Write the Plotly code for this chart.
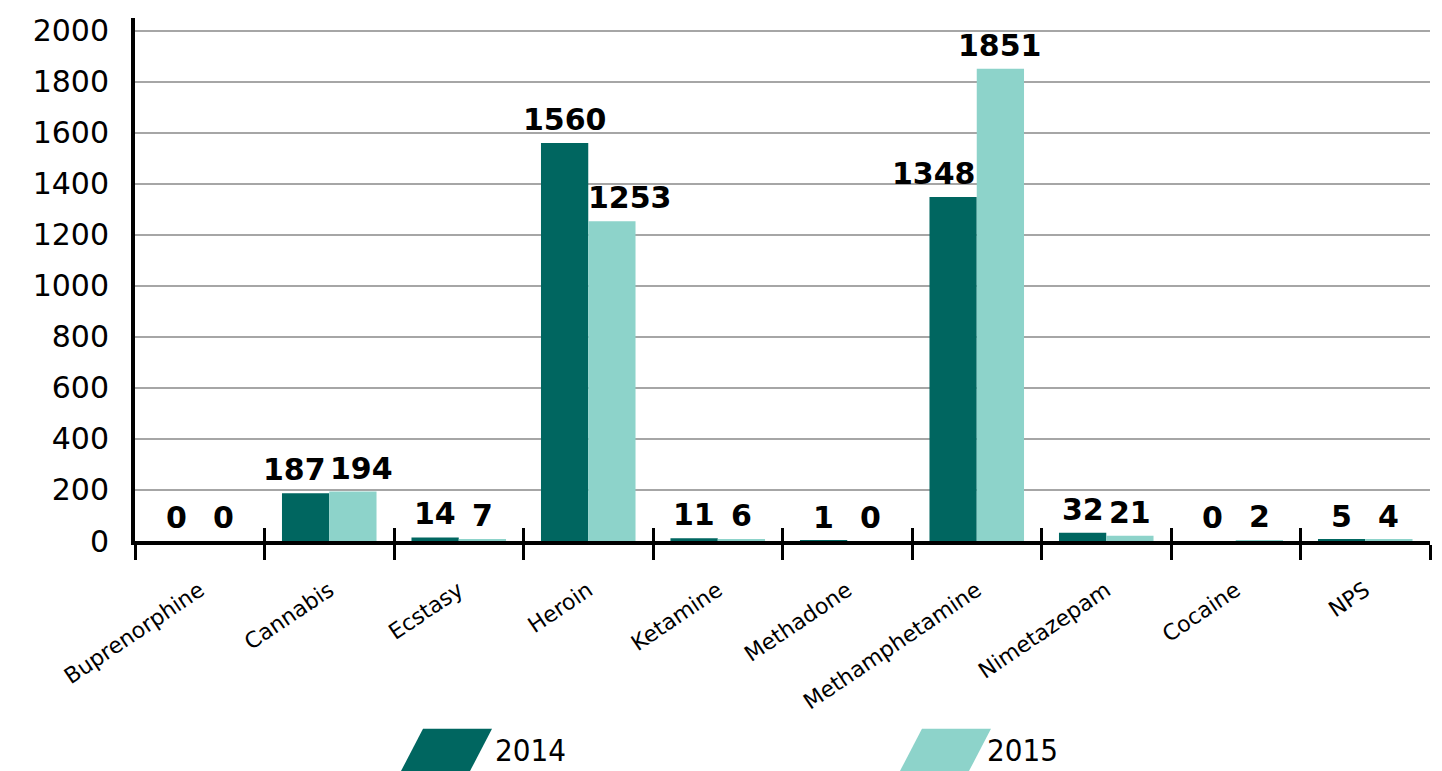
import plotly.graph_objects as go

# %% DATA
drugs = ['Buprenorphine', 'Cannabis', 'Ecstasy', 'Heroin', 'Ketamine',
         'Methadone', 'Methamphetamine', 'Nimetazepam', 'Cocaine', 'NPS']
vals_2014 = [0, 187, 14, 1560, 11, 1, 1348, 32, 0, 5]
vals_2015 = [0, 194, 7, 1253, 6, 0, 1851, 21, 2, 4]
y_ticks = [0, 200, 400, 600, 800, 1000, 1200, 1400, 1600, 1800, 2000]

c2014 = '#006660'
c2015 = '#8DD3CA'
font = 'DejaVu Sans'

# extra sideways nudge (px) for labels that would otherwise collide
nudge_2014 = {'Cannabis': -11, 'Methamphetamine': -19}
nudge_2015 = {'Cannabis': 9, 'Heroin': 18}

# %% PLOT
fig = go.Figure()

for name, vals, col in [('2014', vals_2014, c2014), ('2015', vals_2015, c2015)]:
    fig.add_trace(go.Bar(
        x=drugs, y=vals, name=name,
        marker_color=col, marker_line_width=0,
        showlegend=False,
    ))

# dummy trace so the second x axis can draw the upper half of the tick marks
fig.add_trace(go.Scatter(x=drugs, y=[0] * len(drugs), xaxis='x2',
                         mode='none', showlegend=False, hoverinfo='skip'))

# value labels above each bar
plot_w = 1442 - 127 - 20
bargap = 0.27
half_bar = plot_w / len(drugs) * (1 - bargap) / 4
for vals, side, nudge in [(vals_2014, -1, nudge_2014), (vals_2015, 1, nudge_2015)]:
    for d, v in zip(drugs, vals):
        fig.add_annotation(
            x=d, y=v, xref='x', yref='y', text=f'<b>{v}</b>',
            showarrow=False, xanchor='center', yanchor='bottom',
            xshift=side * half_bar + nudge.get(d, 0), yshift=4,
            font=dict(family=font, size=30, color='black'),
        )

# page body has an 8px margin, so the margins are trimmed by that much
fig.update_layout(
    width=1442, height=771,
    margin=dict(l=127, r=20, t=5, b=238),
    plot_bgcolor='white', paper_bgcolor='white',
    barmode='group', bargap=bargap, bargroupgap=0,
    font=dict(family=font, color='black'),
    xaxis=dict(
        type='category', categoryarray=drugs, range=[-0.5, 9.5],
        tickson='boundaries', ticks='outside', ticklen=15, tickwidth=2.5,
        tickcolor='black', showline=True, linewidth=4, linecolor='black',
        tickangle=-34, tickfont=dict(size=22), ticklabelstandoff=24,
        showgrid=False, fixedrange=True,
    ),
    xaxis2=dict(
        type='category', categoryarray=drugs, range=[-0.5, 9.5],
        overlaying='x', side='bottom', anchor='y',
        tickson='boundaries', ticks='inside', ticklen=13, tickwidth=2.5,
        tickcolor='black', showticklabels=False, showgrid=False,
        showline=False, fixedrange=True,
    ),
    yaxis=dict(
        range=[0, 2050], tickvals=y_ticks, tickfont=dict(size=30),
        showgrid=True, gridcolor='#A6A6A6', gridwidth=2,
        showline=True, linewidth=4, linecolor='black',
        ticks='', ticklabelstandoff=16, zeroline=False, fixedrange=True,
    ),
)

# legend: slanted swatches + labels
for x0, tx, name, col in [(0.2054, 0.2764, '2014', c2014),
                          (0.5907, 0.6564, '2015', c2015)]:
    w = 0.0533
    sl = 0.017
    fig.add_shape(
        type='path', xref='paper', yref='paper',
        path=f'M {x0} -0.44 L {x0 + w} -0.44 L {x0 + w + sl} -0.359 L {x0 + sl} -0.359 Z',
        fillcolor=col, line_width=0,
    )
    fig.add_annotation(
        x=tx, y=-0.400, xref='paper', yref='paper',
        text=name, showarrow=False, xanchor='left', yanchor='middle',
        font=dict(family='DejaVu Sans Condensed', size=31, color='black'),
    )

fig.write_html('out.html')
